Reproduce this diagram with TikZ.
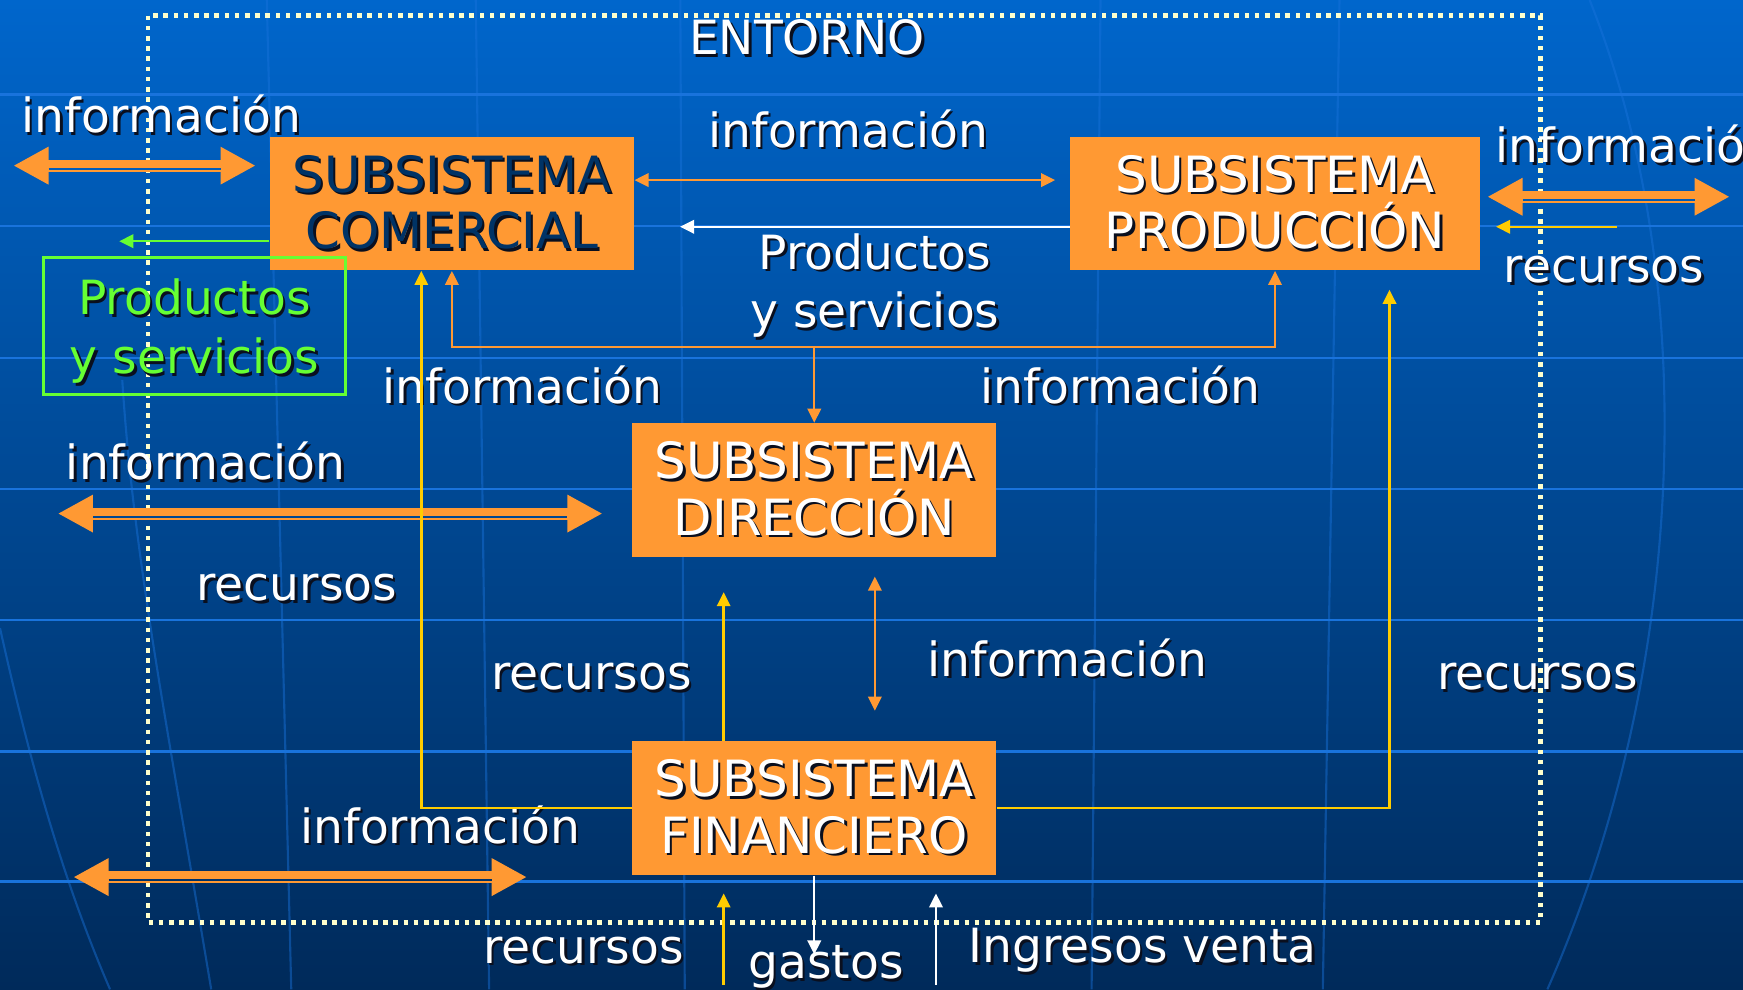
\documentclass[tikz,border=0pt]{standalone}
\usepackage{fontspec}
\setmainfont{DejaVu Sans}
\usetikzlibrary{arrows.meta, positioning, calc}
\definecolor{bgtop}{RGB}{0, 102, 204}
\definecolor{bgbot}{RGB}{0, 42, 90}
\definecolor{boxorange}{RGB}{255, 153, 51}
\definecolor{resyellow}{RGB}{255, 204, 0}
\definecolor{prodgreen}{RGB}{102, 255, 51}
\definecolor{envcream}{RGB}{255, 255, 204}
\definecolor{comnavy}{RGB}{0, 51, 102}
\definecolor{gridblue}{RGB}{25, 115, 220}
\definecolor{shadowcol}{RGB}{10, 15, 30}
% text with a drop shadow
\newcommand{\shd}[1]{\makebox[0pt][l]{\kern0.7pt\raisebox{-0.7pt}{\textcolor{shadowcol}{#1}}}#1}

\begin{document}
\begin{tikzpicture}[x=0.011116cm, y=-0.011116cm,
  >={Triangle[length=4pt, width=3.8pt]},
  subsys/.style={fill=boxorange, minimum height=1.334cm, align=center, inner sep=0pt, text=white, font=\fontsize{14.2}{16.1}\selectfont},
  lbl/.style={text=white, align=center, inner sep=0pt, font=\fontsize{13.4}{16.7}\selectfont},
  prodbox/.style={lbl, draw=prodgreen, text=prodgreen, line width=0.8pt, minimum width=3.024cm, minimum height=1.367cm, text depth=0pt},
  infoarrow/.style={boxorange, line width=0.7pt, ->},
  resarrow/.style={resyellow, line width=0.7pt, ->},
  cashflow/.style={white, line width=0.7pt, ->},
  prodflow/.style={prodgreen, line width=0.7pt, ->},
  bigarrow/.style={boxorange, line width=3.4pt, {Triangle[length=10pt, width=10pt]}-{Triangle[length=10pt, width=10pt]},
    postaction={draw=#1, line width=0.6pt, arrows=-, shorten <=10pt, shorten >=10pt, transform canvas={yshift=-0.9pt}}},
  bigarrow/.default=bgtop,
  gridline/.style={gridblue, line width=0.6pt},
  meridian/.style={gridblue, line width=0.6pt, opacity=0.45},
  entorno/.style={envcream, line width=1.3pt, dash pattern=on 1.3pt off 1.6pt}
]
  % background
  \useasboundingbox (0,0) rectangle (1568,890);
  \shade[top color=bgtop, bottom color=bgbot] (0,0) rectangle (1568,890);
  \foreach \gy in {85,203,322,440,558,676,793}
    \draw[gridline] (0,\gy) -- (1568,\gy);
  \foreach \xt/\xb in {240/262, 428/440, 612/616, 990/982, 1205/1190}
    \draw[meridian] (\xt,0) -- (\xb,890);
  \draw[meridian] (1430,0) .. controls (1530,250) and (1520,600) .. (1392,890);
  \draw[meridian] (110,342) .. controls (120,500) and (150,650) .. (190,890);
  \draw[meridian] (0,565) .. controls (30,700) and (60,800) .. (99,890);

  % environment frame
  \draw[entorno] (133,14) rectangle (1386,830);
  \node[lbl] (entorno) at (726,35) {\shd{ENTORNO}};

  % subsystems
  \node[subsys, text=comnavy, minimum width=3.635cm] (com) at (406.5,183) {\shd{SUBSISTEMA}\\\shd{COMERCIAL}};
  \node[subsys, minimum width=4.091cm] (prod) at (1147,183) {\shd{SUBSISTEMA}\\\shd{PRODUCCIÓN}};
  \node[subsys, minimum width=3.635cm] (dir) at (732.5,441) {\shd{SUBSISTEMA}\\\shd{DIRECCIÓN}};
  \node[subsys, minimum width=3.635cm] (fin) at (732.5,727) {\shd{SUBSISTEMA}\\\shd{FINANCIERO}};
  \node[prodbox] (prodsal) at (175,293.5) {\shd{Productos}\\\shd{y servicios}};

  % labels
  \node[lbl] (infoTL) at (145,104) {\shd{información}};
  \node[lbl] (infoCP) at (763,117) {\shd{información}};
  \node[lbl] (prodCP) at (787,258) {\shd{Productos}\\\shd{y servicios}};
  \node[lbl] (infoCD) at (470,347) {\shd{información}};
  \node[lbl] (infoPD) at (1008,347) {\shd{información}};
  \node[lbl] (infoML) at (185,416) {\shd{información}};
  \node[lbl] (recML) at (267,530) {\shd{recursos}};
  \node[lbl] (recFD) at (532,610) {\shd{recursos}};
  \node[lbl] (infoFD) at (960,593) {\shd{información}};
  \node[lbl] (recFP) at (1383,610) {\shd{recursos}};
  \node[lbl, anchor=west] (infoTR) at (1345,131) {\shd{información}};
  \node[lbl] (recTR) at (1443,244) {\shd{recursos}};
  \node[lbl] (infoBL) at (396,743) {\shd{información}};
  \node[lbl] (recB) at (525,856) {\shd{recursos}};
  \node[lbl] (gastos) at (743,871) {\shd{gastos}};
  \node[lbl] (ingresos) at (1028,856) {\shd{Ingresos venta}};

  % exchanges with the environment
  \coordinate (tlA) at (12,149);   \coordinate (tlB) at (230,149);
  \coordinate (mlA) at (52,462);   \coordinate (mlB) at (542,462);
  \coordinate (blA) at (66,789);   \coordinate (blB) at (474,789);
  \coordinate (trA) at (1338,177); \coordinate (trB) at (1556,177);
  \coordinate (trR) at (1455,204);
  \draw[bigarrow=bgtop!83!bgbot] (tlA) -- (tlB);
  \draw[bigarrow=bgtop!48!bgbot] (mlA) -- (mlB);
  \draw[bigarrow=bgtop!11!bgbot] (blA) -- (blB);
  \draw[bigarrow=bgtop!80!bgbot] (trA) -- (trB);
  \draw[resarrow] (trR) -- ($(prod.east)+(14,21)$);

  % comercial <-> produccion
  \draw[infoarrow, <->] ($(com.east)+(0,-21)$) -- ($(prod.west)+(-13,-21)$);
  \draw[cashflow] ($(prod.west)+(0,21)$) -- ($(com.east)+(41,21)$);
  \draw[prodflow] ($(com.west)+(0,34)$) -- ($(com.west)+(-135,34)$);

  % information tree to direccion
  \coordinate (split) at (dir.north |- 0,312);
  \draw[infoarrow] (split) -| (com.south);
  \draw[infoarrow] (split) -| (prod.south);
  \draw[infoarrow] (split) -- (dir.north);
  \draw[infoarrow, <->] ($(dir.south)+(54.5,17)$) -- ($(fin.north)+(54.5,-27)$);

  % resources from financiero
  \draw[resarrow] (fin.west) -| ($(com.south)+(-27.5,0)$);
  \draw[resarrow] (fin.east) -| ($(prod.south)+(103,17)$);
  \draw[resarrow] ($(fin.north)+(-81.5,0)$) -- ($(dir.south)+(-81.5,31)$);

  % money flows
  \draw[resarrow] ($(fin.south)+(-81.5,98)$) -- ($(fin.south)+(-81.5,16)$);
  \draw[cashflow] (fin.south) -- ($(fin.south)+(0,71)$);
  \draw[cashflow] ($(fin.south)+(109.5,98)$) -- ($(fin.south)+(109.5,16)$);
\end{tikzpicture}
\end{document}
